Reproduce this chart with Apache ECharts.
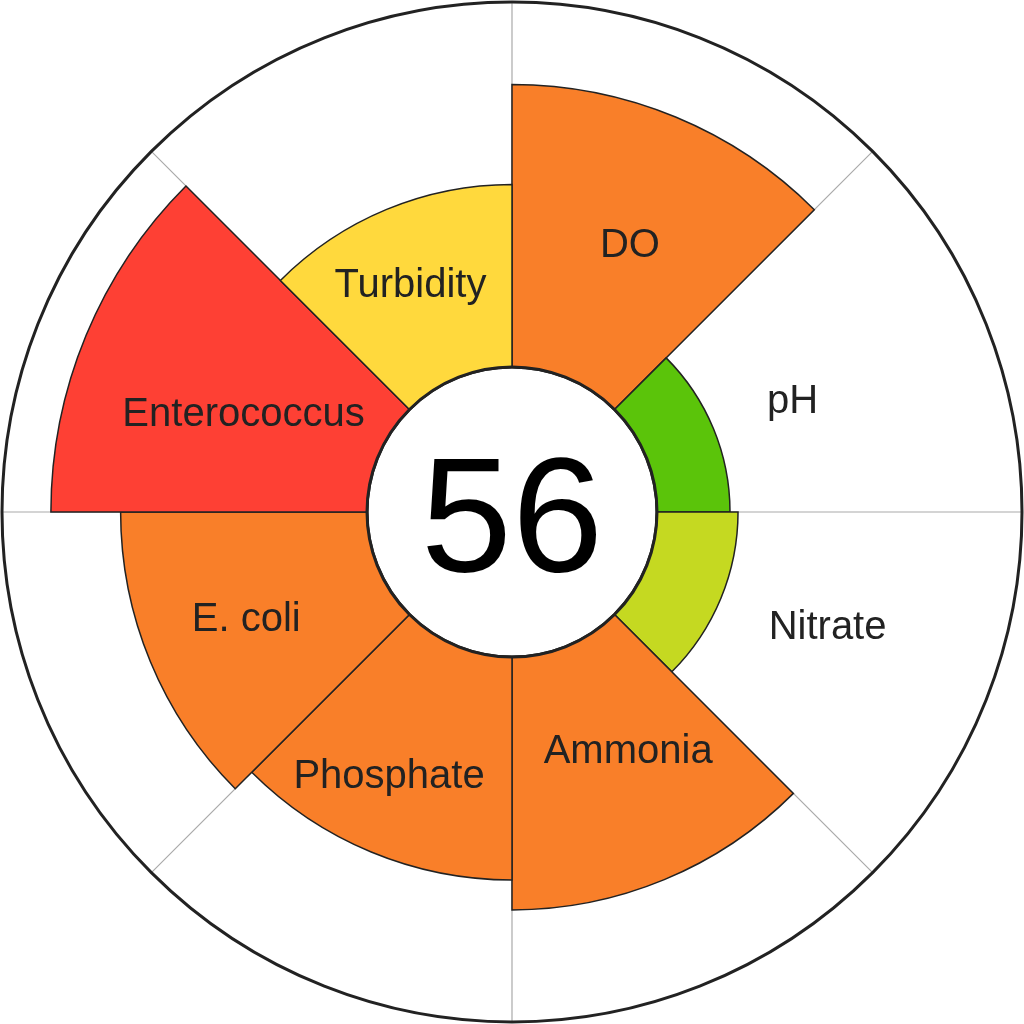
<!DOCTYPE html>
<html>
<head>
<meta charset="utf-8">
<style>
  html, body { margin: 0; padding: 0; background: #ffffff; }
  #chart { width: 1024px; height: 1024px; }
</style>
<script src="https://cdn.jsdelivr.net/npm/echarts@6/dist/echarts.min.js"></script>
</head>
<body>
<div id="chart"></div>
<script>
// ---- data ----
const categories = ['DO', 'pH', 'Nitrate', 'Ammonia', 'Phosphate', 'E. coli', 'Enterococcus', 'Turbidity'];
const scores = [77.4, 20, 22.2, 69.3, 61.1, 67.5, 86.6, 50];
const overallScore = 56;
// ---- styling / label placement (radius in score units, angle in degrees clockwise from top) ----
const colors = ['#F97F29', '#5BC40A', '#C5D921', '#F97F29', '#F97F29', '#F97F29', '#FE4034', '#FFD93D'];
const labelRadius = [40.0, 42.8, 52.4, 33.4, 40.3, 38.9, 38.5, 28.1];
const labelAngle = [23.9, 68.6, 110.2, 154.2, 204.9, 247.8, 289.9, 335.8];

const chart = echarts.init(document.getElementById('chart'), null, { renderer: 'canvas' });
const font = '"Liberation Sans", Arial, sans-serif';
const W = chart.getWidth(), H = chart.getHeight();

chart.setOption({
  animation: false,
  backgroundColor: '#ffffff',
  polar: [
    { center: ['50%', '50%'], radius: [145, 510] },
    { center: ['50%', '50%'], radius: 145 },
    { center: ['50%', '50%'], radius: [145, 510] }
  ],
  angleAxis: [
    {
      polarIndex: 0,
      type: 'category',
      data: categories,
      startAngle: 90,
      clockwise: true,
      boundaryGap: true,
      axisLine: { show: true, lineStyle: { color: '#222', width: 3 } },
      axisTick: { show: false },
      axisLabel: { show: false },
      splitLine: { show: true, lineStyle: { color: '#aaaaaa', width: 1.2 } },
      z: 0
    },
    {
      polarIndex: 1,
      type: 'value',
      min: 0,
      max: 360,
      axisLine: { show: true, lineStyle: { color: '#222', width: 3 } },
      axisTick: { show: false },
      axisLabel: { show: false },
      splitLine: { show: false },
      z: 10
    },
    {
      polarIndex: 2,
      type: 'value',
      min: 0,
      max: 360,
      startAngle: 90,
      clockwise: true,
      show: false
    }
  ],
  radiusAxis: [
    {
      polarIndex: 0,
      type: 'value',
      min: 0,
      max: 100,
      axisLine: { show: false },
      axisTick: { show: false },
      axisLabel: { show: false },
      splitLine: { show: false }
    },
    { polarIndex: 1, type: 'value', min: 0, max: 1, show: false },
    { polarIndex: 2, type: 'value', min: 0, max: 100, show: false }
  ],
  graphic: [
    {
      type: 'text',
      x: W / 2,
      y: H / 2 + 14,
      z: 20,
      style: {
        text: String(overallScore),
        font: '164px ' + font,
        fill: '#000000',
        align: 'center',
        verticalAlign: 'middle'
      }
    }
  ],
  series: [
    {
      type: 'bar',
      coordinateSystem: 'polar',
      polarIndex: 0,
      barCategoryGap: '0%',
      data: scores.map((v, i) => ({
        value: v,
        itemStyle: { color: colors[i] }
      })),
      itemStyle: { borderColor: '#222', borderWidth: 1.5 },
      z: 2
    },
    {
      type: 'scatter',
      coordinateSystem: 'polar',
      polarIndex: 2,
      symbolSize: 0,
      itemStyle: { opacity: 1 },
      data: categories.map((c, i) => ({ name: c, value: [labelRadius[i], labelAngle[i]] })),
      label: {
        show: true,
        position: 'inside',
        formatter: '{b}',
        color: '#222222',
        opacity: 1,
        fontSize: 40,
        fontFamily: font
      },
      z: 5
    }
  ]
});
</script>
</body>
</html>
